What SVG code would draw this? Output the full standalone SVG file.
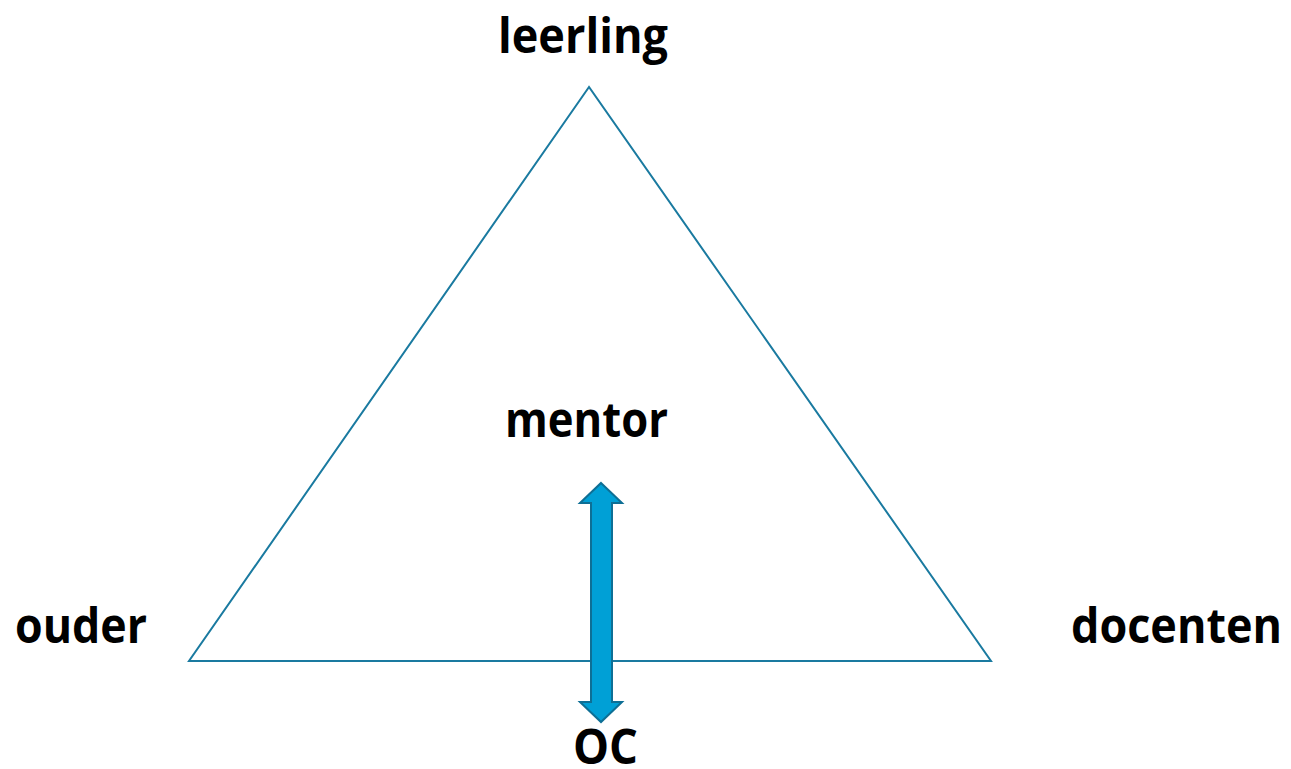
<svg xmlns="http://www.w3.org/2000/svg" width="1291" height="769" viewBox="0 0 1291 769">
<style>
.lbl{font-family:"Open Sans","Liberation Sans",sans-serif;font-weight:bold;font-size:49px;fill:#000}
.tri{fill:none;stroke:#1a7aa0;stroke-width:2}
.arr{fill:#00a0d6;stroke:#0e6f95;stroke-width:2;stroke-linejoin:miter}
</style>
<rect width="1291" height="769" fill="#fff"/>
<g id="connectors">
<polygon id="triangle" class="tri" points="589,87 189,661 991,661"/>
<polygon id="arrow" class="arr" points="601,483 622,503 612,503 612,702 622,702 601,722 580,702 591,702 591,503 580,503"/>
</g>
<g id="leerling"><text class="lbl" x="498" y="53" textLength="170" lengthAdjust="spacingAndGlyphs">leerling</text></g>
<g id="mentor"><text class="lbl" x="505" y="437" textLength="163" lengthAdjust="spacingAndGlyphs">mentor</text></g>
<g id="ouder"><text class="lbl" x="15" y="643" textLength="132" lengthAdjust="spacingAndGlyphs">ouder</text></g>
<g id="docenten"><text class="lbl" x="1071" y="643" textLength="211" lengthAdjust="spacingAndGlyphs">docenten</text></g>
<g id="oc"><text class="lbl" x="573" y="764" textLength="65" lengthAdjust="spacingAndGlyphs">OC</text></g>
</svg>
